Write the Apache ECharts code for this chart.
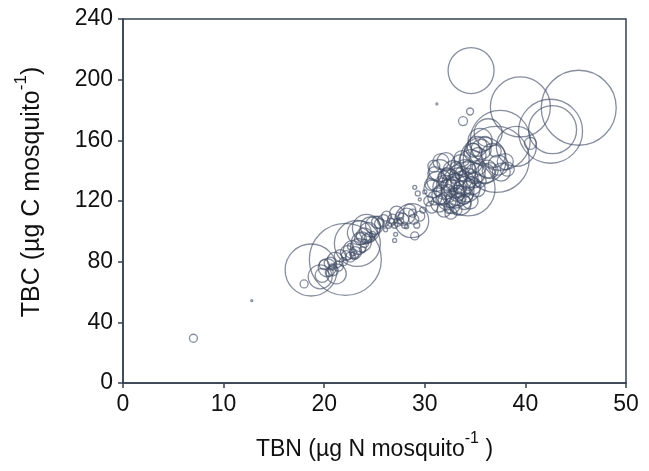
<!DOCTYPE html>
<html>
<head>
<meta charset="utf-8">
<script src="https://cdn.jsdelivr.net/npm/echarts@6/dist/echarts.min.js"></script>
<style>html,body{margin:0;padding:0;background:#fff}#c{width:649px;height:471px}</style>
</head>
<body>
<div id="c"></div>
<script>
// TBN (x), TBC (y), bubble radius value
const tbn = [
  7.0, 12.8, 18.0, 18.7, 22.1, 34.6, 45.3, 39.5, 42.5, 42.7, 37.5, 37.1, 39.1, 34.5, 33.8, 31.2, 40.5, 34.3, 28.7,
  19.8, 20.3, 20.6, 20.9, 21.1, 21.4, 20.5, 21.6, 20.8, 21.2, 20.0, 19.6, 21.9, 22.3, 22.6,
  22.8, 23.1, 23.4, 23.0, 23.7, 24.0, 24.2, 23.5, 24.4, 24.6, 24.0, 23.3, 24.2, 25.0, 24.8, 23.8, 22.6,
  25.5, 25.9, 26.4, 26.8, 27.2, 27.5, 27.0, 27.3, 27.8, 28.2, 28.5, 28.8, 28.0, 29.0, 27.1, 27.0, 29.5, 29.8, 28.2, 26.1,
  29.0, 29.3, 29.5, 30.0, 30.4, 30.7, 31.0, 30.8, 31.2, 31.5, 31.0, 30.6,
  31.4, 31.7, 31.9, 32.0, 32.2, 32.4, 32.5, 32.7, 32.8, 33.0, 33.1, 33.3, 33.4, 33.5, 33.6, 33.8, 33.9, 34.0, 34.2, 34.3,
  34.5, 34.6, 34.7, 35.0, 35.2, 32.2, 32.6, 33.2, 33.7, 34.8, 35.4, 31.8, 32.9, 33.6, 34.1, 32.1,
  35.3, 35.6, 35.8, 36.0, 36.2, 36.5, 36.0, 36.8, 37.3, 38.0, 37.6, 38.2, 37.0, 35.5, 36.3, 34.8, 35.2,
  31.6, 32.3, 32.8, 33.2, 33.5, 33.9, 34.4, 32.5, 33.0, 31.9, 33.7, 34.9, 32.4, 31.3, 33.1, 34.3, 35.5, 32.7, 33.4, 31.6, 30.9,
  26.6, 27.6, 28.9, 26.2, 29.2,
  22.2, 22.9, 23.6, 24.5, 25.3
];
const tbc = [
  29.5, 54.3, 65.3, 74.5, 81.5, 206, 181.5, 182, 166, 167, 160, 147.4, 156, 179, 172.7, 184, 158, 128, 107,
  71, 76, 79, 74, 81, 77, 73, 84, 76.5, 72, 78, 70, 80, 86, 83,
  88, 86, 90, 84, 93, 97, 95, 99, 100, 103, 92, 92, 102, 104, 98, 88, 90,
  105, 107, 104, 108, 112, 110, 104, 106, 108, 110, 114, 112, 104, 97, 98, 94, 110, 114, 103, 101,
  129, 125, 121, 126, 120, 116, 122, 128, 133, 140, 138, 131,
  118, 124, 114, 129, 120, 134, 125, 117, 140, 130, 122, 136, 127, 118, 144, 132, 124, 140, 128, 135,
  120, 146, 130, 138, 128, 138, 112, 114, 148, 152, 142, 132, 126, 121, 126, 146,
  150, 154, 147, 158, 141, 140, 138, 150, 143.7, 146, 139, 141, 153, 160, 165, 153.6, 156,
  121, 127, 131, 125, 129, 119, 131, 122, 135, 136, 138, 134, 115, 126, 142, 142, 133, 128, 124, 146, 143,
  106, 107, 108, 110, 104,
  84, 86, 95, 96, 106
];
const bubble = [
  4, 1, 4, 26, 36, 23, 37.5, 30, 32, 24, 30, 33, 20, 3.5, 4.5, 1, 6, 27, 17,
  7, 9, 6, 5, 8, 5, 4, 6, 3, 10, 5, 12, 4, 7, 5,
  9, 6, 8, 4, 10, 8, 5, 12, 9, 10, 4, 23, 14, 9, 3, 3, 3,
  5, 6, 3, 5, 7, 4, 3, 4, 6, 8, 6, 4, 3, 4, 2, 2, 5, 3, 2, 2,
  2, 2.5, 1.5, 2, 5, 6, 7, 9, 10, 11, 7, 6,
  8, 10, 7, 12, 9, 11, 14, 8, 10, 12, 10, 9, 15, 11, 10, 12, 9, 11, 13, 10,
  8, 12, 9, 10, 8, 6, 6, 5, 8, 9, 7, 5, 4, 4, 5, 9,
  8, 10, 23, 7, 9, 8, 10, 12, 10, 8, 9, 7, 6, 12, 14, 7, 10,
  5, 6, 7, 8, 6, 7, 6, 4, 5, 6, 7, 8, 5, 4, 6, 7, 6, 3, 3, 8, 6,
  4, 3, 5, 5, 3,
  5, 3, 6, 5, 6
];
const xTicks = [0, 10, 20, 30, 40, 50];
const yTicks = [0, 40, 80, 120, 160, 200, 240];

const points = tbn.map((x, i) => [x, tbc[i], bubble[i]]);
const axisColor = '#34404f';
const font = 'Liberation Sans, Arial, sans-serif';
const xRich = {
  m: {fontSize: 23, fontFamily: font, color: '#111', lineHeight: 30, verticalAlign: 'bottom'},
  s: {fontSize: 16, fontFamily: font, color: '#111', lineHeight: 30, verticalAlign: 'top', padding: [0, 0, 8, 0]}
};
const yRich = {
  m: {fontSize: 25, fontFamily: font, color: '#111', lineHeight: 32, verticalAlign: 'bottom'},
  s: {fontSize: 17, fontFamily: font, color: '#111', lineHeight: 32, verticalAlign: 'top', padding: [0, 0, 8, 0]}
};

const chart = echarts.init(document.getElementById('c'), null, {renderer: 'canvas'});
chart.setOption({
  backgroundColor: '#ffffff',
  animation: false,
  grid: {left: 123, right: 23, top: 19, bottom: 88, show: true, borderColor: axisColor, borderWidth: 1.5, backgroundColor: 'transparent'},
  xAxis: {
    type: 'value', min: xTicks[0], max: xTicks[xTicks.length - 1], interval: 10,
    splitLine: {show: false},
    axisLine: {show: true, onZero: false, lineStyle: {color: axisColor, width: 1.5}},
    axisTick: {show: true, inside: false, length: 5, lineStyle: {color: axisColor, width: 1.5}},
    axisLabel: {color: '#111', fontSize: 23, fontFamily: font, margin: 10},
    name: '{m|TBN (µg N mosquito}{s|-1}{m| )}',
    nameLocation: 'middle', nameGap: 48,
    nameTextStyle: {rich: xRich}
  },
  yAxis: {
    type: 'value', min: yTicks[0], max: yTicks[yTicks.length - 1], interval: 40,
    splitLine: {show: false},
    axisLine: {show: true, onZero: false, lineStyle: {color: axisColor, width: 1.5}},
    axisTick: {show: true, inside: false, length: 5, lineStyle: {color: axisColor, width: 1.5}},
    axisLabel: {color: '#111', fontSize: 23, fontFamily: font, margin: 10},
    name: '{m|TBC (µg C mosquito}{s|-1}{m|)}',
    nameLocation: 'middle', nameGap: 78, nameRotate: 90,
    nameTextStyle: {rich: yRich, padding: [0, 0, 0, 18]}
  },
  series: [{
    type: 'scatter',
    data: points,
    symbol: 'circle',
    symbolSize: d => Math.max(2, d[2] * 2),
    itemStyle: {color: 'rgba(0,0,0,0)', borderColor: 'rgba(62,74,100,0.78)', borderWidth: 1.3},
    emphasis: {disabled: true},
    clip: false
  }]
});
</script>
</body>
</html>
